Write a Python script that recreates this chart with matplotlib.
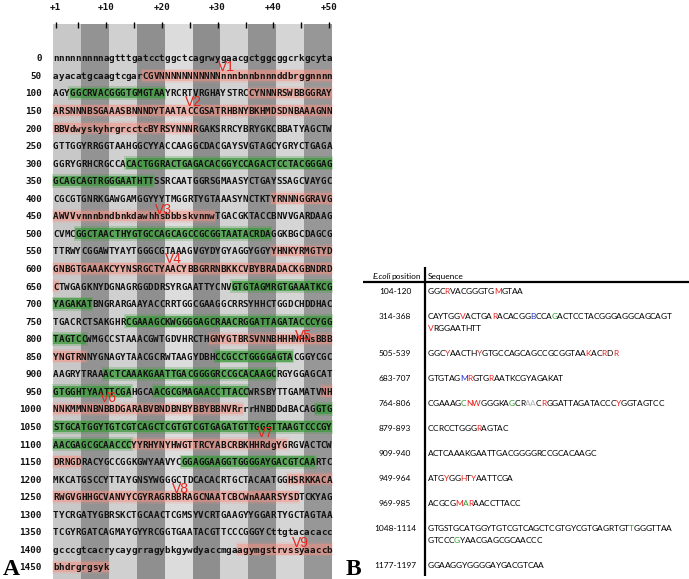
import matplotlib
matplotlib.use("Agg")
import matplotlib.pyplot as plt
from matplotlib.patches import Rectangle
from matplotlib.font_manager import FontProperties, findfont
from matplotlib import ft2font

W, H, DPI = 689, 579, 100

# ---------------- Panel A data ----------------
row_starts = list(range(0, 1500, 50))
sequences = [
    "nnnnnnnnnagtttgatcctggctcagrwygaacgctggcggcrkgcyta",
    "ayacatgcaagtcgarCGVNNNNNNNNNNNnnnbnnbnnnddbrggnnnn",
    "AGYGGCRVACGGGTGMGTAAYRCRTVRGHAYSTRCCYNNNRSWBBGGRAY",
    "ARSNNNBSGAAASBNNNDYTAATACCGSATRHBNYBKHMDSDNBAAAGNN",
    "BBVdwyskyhrgrcctcBYRSYNNNRGAKSRRCYBRYGKCBBATYAGCTW",
    "GTTGGYRRGGTAAHGGCYYACCAAGGCDACGAYSVGTAGCYGRYCTGAGA",
    "GGRYGRHCRGCCACACTGGRACTGAGACACGGYCCAGACTCCTACGGGAG",
    "GCAGCAGTRGGGAATHTTSSRCAATGGRSGMAASYCTGAYSSAGCVAYGC",
    "CGCGTGNRKGAWGAMGGYYYTMGGRTYGTAAASYNCTKTYRNNNGGRAVG",
    "AWVVvnnnbndbnkdawhhsbbbskvnnwTGACGKTACCBNVVGARDAAG",
    "CVMCGGCTAACTHYGTGCCAGCAGCCGCGGTAATACRDAGGKBGCDAGCG",
    "TTRWYCGGAWTYAYTGGGCGTAAAGVGYDYGYAGGYGGYYHNKYRMGTYD",
    "GNBGTGAAAKCYYNSRGCTYAACYBBGRRNBKKCVBYBRADACKGBNDRD",
    "CTWGAGKNYDGNAGRGGDDRSYRGAATTYCNVGTGTAGMRGTGAAATKCG",
    "YAGAKATBNGRARGAAYACCRRTGGCGAAGGCRRSYHHCTGGDCHDDHAC",
    "TGACRCTSAKGHRCGAAAGCKWGGGGAGCRAACRGGATTAGATACCCYGG",
    "TAGTCCWMGCCSTAAACGWTGDVHRCTHGNYGTBRSVNNBHHHNHNsBBB",
    "YNGTRNNYGNAGYTAACGCRWTAAGYDBHCCGCCTGGGGAGTACGGYCGC",
    "AAGRYTRAAACTCAAAKGAATTGACGGGGRCCGCACAAGCRGYGGAGCAT",
    "GTGGHTYAATTCGAHGCAACGCGMAGAACCTTACCWRSBYTTGAMATVNH",
    "NNKMMNNBNBBDGARABVBNDBNBYBBYBBNVRrrrHNBDDdBACAGGTG",
    "STGCATGGYTGTCGTCAGCTCGTGTCGTGAGATGTTGGGTTAAGTCCCGY",
    "AACGAGCGCAACCCYYRHYNYHWGTTRCYABCRBKHHRdgYGRGVACTCW",
    "DRNGDRACYGCCGGKGWYAAVYCGGAGGAAGGTGGGGAYGACGTCAARTC",
    "MKCATGSCCYTTAYGNSYWGGGCTDCACACRTGCTACAATGGHSRKKACA",
    "RWGVGHHGCVANVYCGYRAGRBBRAGCNAATCBCWnAAARSYSDTCKYAG",
    "TYCRGATYGBRSKCTGCAACTCGMSYVCRTGAAGYYGGARTYGCTAGTAA",
    "TCGYRGATCAGMAYGYYRCGGTGAATACGTTCCCGGGYCttgtacacacc",
    "gcccgtcacrycaygrragybkgywdyaccmgaagymgstrvssyaaccb",
    "bhdrgrgsyk",
]
# (row start, first column, last column)
variable_regions = [
    (50, 17, 50), (100, 36, 50), (150, 1, 50), (200, 1, 26), (400, 40, 50),
    (450, 1, 29), (550, 40, 50), (600, 1, 50), (650, 1, 1), (800, 29, 50),
    (850, 1, 6), (950, 49, 50), (1000, 1, 34), (1100, 15, 42), (1150, 1, 5),
    (1200, 43, 50), (1250, 1, 44), (1400, 34, 50), (1450, 1, 10),
]
conserved_regions = [
    (100, 4, 20), (300, 14, 50), (350, 1, 18), (500, 5, 39), (650, 33, 50),
    (700, 1, 7), (750, 14, 50), (800, 1, 6), (850, 30, 43), (900, 10, 40),
    (950, 1, 14), (950, 19, 35), (1000, 48, 50), (1050, 1, 50), (1100, 1, 14),
    (1150, 24, 47),
]
v_names = ["V1", "V2", "V3", "V4", "V5", "V6", "V7", "V8", "V9"]
v_cols = [31.5, 25.6, 20.3, 22.1, 45.4, 10.4, 38.5, 23.3, 44.8]
v_rows = [0.5, 2.5, 8.65, 11.45, 15.85, 19.4, 21.35, 24.55, 27.65]
tick_cols = [1, 5, 10, 15, 20, 25, 30, 35, 40, 45, 50]
label_cols = [1, 10, 20, 30, 40, 50]
label_texts = ["+1", "+10", "+20", "+30", "+40", "+50"]

# ---------------- Panel B data ----------------
ecoli_positions = ["104-120", "314-368", "505-539", "683-707", "764-806",
                   "879-893", "909-940", "949-964", "969-985", "1048-1114",
                   "1177-1197"]
consensus = [
    ["GGCRVACGGGTGMGTAA"],
    ["CAYTGGVACTGARACACGGBCCAGACTCCTACGGGAGGCAGCAGT", "VRGGAATHTT"],
    ["GGCYAACTHYGTGCCAGCAGCCGCGGTAAKACRDR"],
    ["GTGTAGMRGTGRAATKCGYAGAKAT"],
    ["CGAAAGCNWGGGKAGCRAACRGGATTAGATACCCYGGTAGTCC"],
    ["CCRCCTGGGRAGTAC"],
    ["ACTCAAAKGAATTGACGGGGRCCGCACAAGC"],
    ["ATGYGGHTYAATTCGA"],
    ["ACGCGMARAACCTTACC"],
    ["GTGSTGCATGGYTGTCGTCAGCTCGTGYCGTGAGRTGTTGGGTTAA", "GTCCCGYAACGAGCGCAACCC"],
    ["GGAAGGYGGGGAYGACGTCAA"],
]
# colour marks: (entry, line, index, colour key)
marks = [
    (0, 0, 3, "r"), (0, 0, 12, "r"),
    (1, 0, 6, "r"), (1, 0, 12, "r"), (1, 0, 19, "b"), (1, 0, 23, "g"), (1, 1, 0, "r"),
    (2, 0, 3, "r"), (2, 0, 9, "r"), (2, 0, 29, "r"), (2, 0, 32, "r"), (2, 0, 34, "r"),
    (3, 0, 6, "b"), (3, 0, 7, "r"), (3, 0, 11, "r"),
    (4, 0, 6, "g"), (4, 0, 7, "r"), (4, 0, 8, "r"), (4, 0, 14, "g"),
    (4, 0, 17, "l"), (4, 0, 18, "l"), (4, 0, 20, "r"), (4, 0, 34, "r"),
    (5, 0, 9, "r"),
    (7, 0, 3, "r"), (7, 0, 6, "r"), (7, 0, 8, "r"),
    (8, 0, 5, "r"), (8, 0, 6, "g"), (8, 0, 7, "r"),
    (9, 0, 38, "g"), (9, 1, 5, "g"),
]
entry_y = [290, 315, 352, 377, 402, 427, 452, 477, 502, 527, 564]

# ---------------- layout constants ----------------
X0, CW = 53.0, 5.58      # pixel left edge of column 1, column width
Y0, RH = 58.0, 17.55     # pixel centre of first row, row height
col_of = lambda px: (px - X0) / CW + 0.5
row_of = lambda py: (py - Y0) / RH

fig = plt.figure(figsize=(W / DPI, H / DPI), dpi=DPI)
ax_main = fig.add_axes([0, 0, 1, 1])
ax_main.set_xlim(0, W)
ax_main.set_ylim(H, 0)
ax_main.axis("off")

ax = fig.add_axes([0, 0, 345 / W, 1])
ax.set_xlim(col_of(0), col_of(345))
ax.set_ylim(row_of(H), row_of(0))
ax.axis("off")
ax.patch.set_alpha(0)

# stripes
stripe_colors = ["#c8c8c8", "#939393", "#d0d0d0", "#8f8f8f", "#dcdcdc",
                 "#8e8e8e", "#d2d2d2", "#929292", "#d5d5d5", "#979797"]
top, bot = row_of(24), row_of(H)
ax.bar([5 * k + 3 for k in range(10)], [bot - top] * 10, bottom=top, width=5,
       color=stripe_colors, zorder=0, linewidth=0)

# ticks and tick labels
ax.vlines(tick_cols, row_of(21.5), row_of(27.5), color="black", lw=1.0, zorder=5)
mono = dict(family="DejaVu Sans Mono", weight="bold", size=6.67)
for c, t in zip(label_cols, label_texts):
    ax.text(c, row_of(10.5), t, ha="center", va="baseline", color="#111111", **mono)

# highlights
def add_regions(regions, color, alpha):
    for start, c0, c1 in regions:
        r = row_starts.index(start)
        ax.add_patch(Rectangle((c0 - 0.75, r - 0.40), c1 - c0 + 1.5, 0.80,
                               facecolor=color, alpha=alpha * 0.35, lw=0, zorder=1))
        ax.add_patch(Rectangle((c0 - 0.5, r - 0.30), c1 - c0 + 1.0, 0.60,
                               facecolor=color, alpha=alpha, lw=0, zorder=1))

add_regions(variable_regions, "#fc8f80", 0.45)
add_regions(conserved_regions, "#3c9a3c", 0.72)

# sequence characters and row labels
base_off = 3.4 / RH
for r, (start, seq) in enumerate(zip(row_starts, sequences)):
    ax.text(col_of(42), r + base_off, str(start), ha="right", va="baseline",
            color="#111111", **mono)
    for j, ch in enumerate(seq):
        ax.text(j + 1, r + base_off, ch, ha="center", va="baseline",
                color="#111111", zorder=3, **mono)

# variable region labels
for name, c, r in zip(v_names, v_cols, v_rows):
    ax.text(c, r, name, ha="center", va="center", color="#e8261e",
            family="Liberation Sans", size=10, zorder=4)

# panel letters
ax_main.text(3, 575, "A", family="Liberation Serif", weight="bold", size=17,
             ha="left", va="baseline", color="black")
ax_main.text(346, 575, "B", family="Liberation Serif", weight="bold", size=17,
             ha="left", va="baseline", color="black")

# ---------------- Panel B ----------------
FAM_B = "Lato"
fp = FontProperties(family=FAM_B, size=10)
try:
    NOH = ft2font.LoadFlags.NO_HINTING
except AttributeError:
    NOH = ft2font.LOAD_NO_HINTING
_ft = ft2font.FT2Font(findfont(fp), hinting_factor=1)


def advances(s, size_pt):
    _ft.set_size(size_pt, DPI)
    return [_ft.load_char(ord(ch), flags=NOH).linearHoriAdvance / 65536.0 for ch in s]


size_b = 10 * 259.0 / sum(advances(consensus[1][0], 10))
fp = FontProperties(family=FAM_B, size=size_b)
fp_it = fp.copy()
fp_it.set_style("italic")
COL = {".": "#000000", "r": "#e8201c", "b": "#2233cc", "g": "#2a9a2a", "l": "#b0b0b0"}


def draw_chars(x, y, text, mask):
    adv = advances(text, size_b)
    for ch, a, m in zip(text, adv, mask):
        ax_main.text(x, y, ch, color=COL[m], fontproperties=fp, ha="left", va="baseline")
        x += a


SEQ_X, POS_X, LINE_X, BASE = 427.5, 395, 425, 3.6
# header
pos_w = sum(advances("position", size_b))
space_w = sum(advances(" ", size_b))
ax_main.text(421, 275 + BASE, "position", fontproperties=fp, ha="right",
             va="baseline", color="black")
ax_main.text(421 - pos_w - space_w, 275 + BASE, "E.coli", fontproperties=fp_it,
             ha="right", va="baseline", color="black")
ax_main.text(SEQ_X, 275 + BASE, "Sequence", fontproperties=fp, ha="left",
             va="baseline", color="black")
ax_main.plot([363, W], [282, 282], color="black", lw=1.6, solid_capstyle="butt")
ax_main.plot([LINE_X, LINE_X], [267, 576], color="black", lw=1.6, solid_capstyle="butt")

for e, (pos, lines) in enumerate(zip(ecoli_positions, consensus)):
    y = entry_y[e]
    ax_main.text(POS_X, y + BASE, pos, fontproperties=fp, ha="center",
                 va="baseline", color="black")
    for li, line in enumerate(lines):
        mask = ["."] * len(line)
        for (me, ml, mi, mc) in marks:
            if me == e and ml == li:
                mask[mi] = mc
        draw_chars(SEQ_X, y + li * 12.5 + BASE, line, mask)

fig.savefig("out.png", dpi=DPI)
